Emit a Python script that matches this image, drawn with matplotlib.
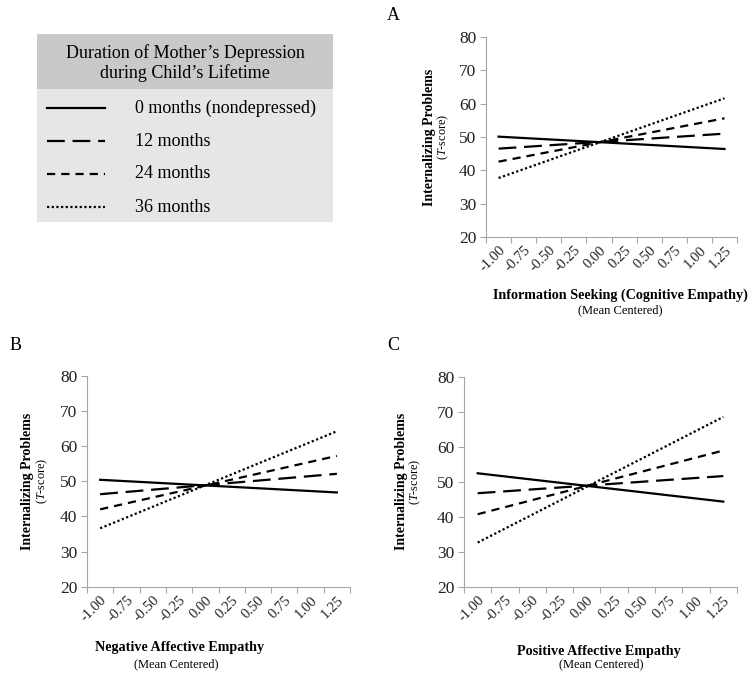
"""Interaction plots: internalizing problems vs empathy by maternal depression duration
"""
import matplotlib.pyplot as plt
from matplotlib.patches import Rectangle

plt.rcParams["font.family"] = ["Liberation Serif", "DejaVu Serif"]
plt.rcParams["mathtext.fontset"] = "custom"
plt.rcParams["mathtext.it"] = "Liberation Serif:italic"
plt.rcParams["mathtext.rm"] = "Liberation Serif"

categories = ["-1.00", "-0.75", "-0.50", "-0.25", "0.00",
              "0.25", "0.50", "0.75", "1.00", "1.25"]
series_names = ["0 months (nondepressed)", "12 months", "24 months", "36 months"]

# start / end values (at -1.00 and 1.25) for each duration
panel_a = [[50.1, 46.4], [46.5, 51.0], [42.6, 55.6], [37.7, 61.6]]
panel_b = [[50.4, 46.8], [46.3, 52.1], [42.0, 57.2], [36.6, 64.2]]
panel_c = [[52.4, 44.3], [46.7, 51.6], [40.7, 58.9], [32.6, 68.5]]

yticks = [20, 30, 40, 50, 60, 70, 80]

dashes = [None, (8, 3.5), (3.7, 2.7), (1, 1.1)]
LW = 1.6
GRAY = "#a6a6a6"

fig = plt.figure(figsize=(7.54, 6.81), dpi=100)


def px(x, y):
    return x / 754, 1 - y / 681


def make_panel(rect, values, letter, letter_xy, ylab_x, xlab, xlab_xy, sub_xy):
    ax = fig.add_axes(rect)
    n = len(categories)
    for vals, d in zip(values, dashes):
        line, = ax.plot([0, n - 1], vals, color="black", lw=LW)
        if d is not None:
            line.set_dashes(d)
            line.set_dash_capstyle("butt")
    ax.set_xlim(-0.5, n - 0.5)
    ax.set_ylim(20, 80)
    ax.set_yticks(yticks)
    ax.set_yticklabels([str(t) for t in yticks], fontsize=12.5, color="#222222")
    ax.set_xticks([i - 0.5 for i in range(n + 1)])
    ax.set_xticklabels([])
    ax.set_xticks(range(n), minor=True)
    ax.set_xticklabels(categories, minor=True, rotation=45, fontsize=10.5,
                       ha="right", va="top", rotation_mode="anchor",
                       color="#222222")
    ax.tick_params(axis="x", which="minor", length=0, pad=5)
    ax.tick_params(axis="x", which="major", length=4, color=GRAY, width=0.8)
    ax.tick_params(axis="y", length=4, color=GRAY, width=0.8, pad=3)
    for s in ["top", "right"]:
        ax.spines[s].set_visible(False)
    for s in ["left", "bottom"]:
        ax.spines[s].set_color(GRAY)
        ax.spines[s].set_linewidth(0.8)

    fig.text(*px(*letter_xy), letter, fontsize=13, ha="left", va="center")
    cy = rect[1] + rect[3] / 2
    fig.text(ylab_x / 754, cy, "Internalizing Problems", rotation=90,
             fontsize=10, fontweight="bold", ha="center", va="center")
    fig.text((ylab_x + 14) / 754, cy, "($T$-score)", rotation=90,
             fontsize=8.8, ha="center", va="center")
    fig.text(*px(*xlab_xy), xlab, fontsize=10.2, fontweight="bold",
             ha="center", va="center")
    fig.text(*px(*sub_xy), "(Mean Centered)", fontsize=9, ha="center", va="center")
    return ax


make_panel([0.6446, 0.652, 0.3329, 0.2937], panel_a, "A", (387, 15), 429,
           "Information Seeking (Cognitive Empathy)", (620, 295), (620, 310))
make_panel([0.1154, 0.1385, 0.3488, 0.3098], panel_b, "B", (10, 345), 28,
           "Negative Affective Empathy", (180, 648), (176, 664))
make_panel([0.6154, 0.1385, 0.362, 0.3084], panel_c, "C", (387, 345), 401,
           "Positive Affective Empathy", (599, 651), (601, 664))

# legend box
lax = fig.add_axes([0, 0, 1, 1], zorder=-1)
lax.set_xlim(0, 754)
lax.set_ylim(681, 0)
lax.axis("off")
lax.add_patch(Rectangle((37, 34), 296, 55, color="#c9c9c9", lw=0))
lax.add_patch(Rectangle((37, 89), 296, 133, color="#e6e6e6", lw=0))
lax.text(185, 53, "Duration of Mother\u2019s Depression", fontsize=13,
         ha="center", va="center")
lax.text(185, 73, "during Child\u2019s Lifetime", fontsize=13,
         ha="center", va="center")
for i, (name, d) in enumerate(zip(series_names, dashes)):
    y = 108 + i * 33
    ln, = lax.plot([47, 105], [y, y], color="black", lw=LW)
    if d is not None:
        ln.set_dashes(d)
        ln.set_dash_capstyle("butt")
    lax.text(135, y, name, fontsize=13, ha="left", va="center")

fig.savefig("out.png", dpi=100)
